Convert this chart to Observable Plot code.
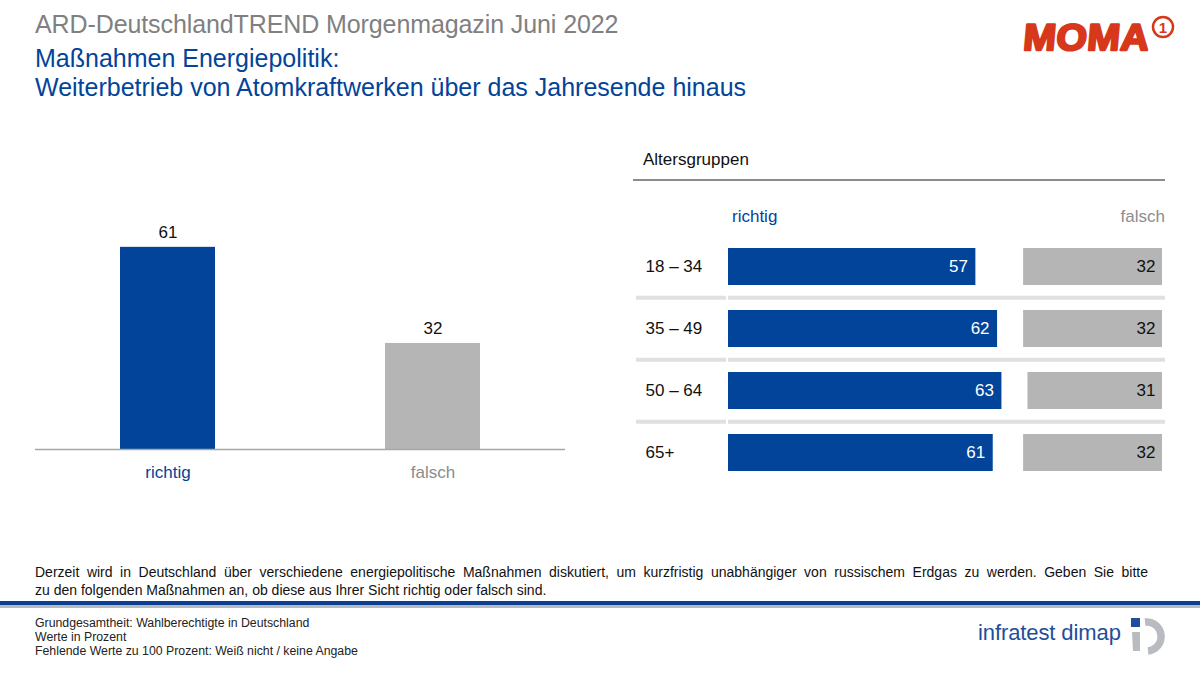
<!DOCTYPE html>
<html>
<head>
<meta charset="utf-8">
<script src="https://cdn.jsdelivr.net/npm/d3@7"></script>
<script src="https://cdn.jsdelivr.net/npm/@observablehq/plot@0.6"></script>
<style>
  html, body { margin: 0; padding: 0; background: #fff; }
  body { width: 1200px; height: 675px; overflow: hidden; font-family: "Liberation Sans", Arial, sans-serif; }
  #page { position: relative; width: 1200px; height: 675px; }
  .abs { position: absolute; white-space: nowrap; }
  #title { left: 35px; top: 10px; font-size: 25px; line-height: 29px; color: #808080; letter-spacing: -0.1px; }
  #subtitle { left: 35px; top: 44px; font-size: 25px; line-height: 29px; color: #02449A; }
  #ageHead { left: 643px; top: 150px; font-size: 17px; line-height: 20px; color: #111; }
  #ageLine { left: 633px; top: 179px; width: 532px; height: 2px; background: #8C8C8C; }
  #hRichtig { left: 732px; top: 207px; font-size: 17px; line-height: 20px; color: #02449A; }
  #hFalsch { right: 35px; top: 207px; font-size: 17px; line-height: 20px; color: #8C8C8C; }
  #question { left: 35px; top: 563px; width: 1113px; font-size: 14px; line-height: 18px; color: #111; white-space: normal; }
  #question .l1 { text-align: justify; text-align-last: justify; }
  #blueLine { left: 0; top: 601px; width: 1200px; height: 4px; background: #0B3F93; }
  #grayLine { left: 0; top: 605px; width: 1200px; height: 3px; background: #B7BABD; }
  #notes { left: 35px; top: 616px; font-size: 12.3px; line-height: 14px; color: #222; }
  #leftChart { left: 0; top: 200px; }
  #rightChart { left: 620px; top: 200px; }
  #infratest { left: 978px; top: 619px; font-size: 22px; line-height: 28px; color: #1F4E9A; letter-spacing: -0.1px; }
</style>
</head>
<body>
<div id="page">
  <div class="abs" id="title">ARD-DeutschlandTREND Morgenmagazin Juni 2022</div>
  <div class="abs" id="subtitle">Maßnahmen Energiepolitik:<br>Weiterbetrieb von Atomkraftwerken über das Jahresende hinaus</div>

  <svg class="abs" style="left:1010px;top:10px" width="180" height="50" viewBox="0 0 180 50">
    <text x="16" y="40" font-family="Liberation Sans, Arial, sans-serif" font-weight="bold" font-size="37" fill="#D7381B" stroke="#D7381B" stroke-width="2.4" stroke-linejoin="round" transform="skewX(-5)" letter-spacing="0.5" textLength="126" lengthAdjust="spacingAndGlyphs">MOMA</text>
    <circle cx="153" cy="17" r="10" fill="none" stroke="#D7381B" stroke-width="2.5"/>
    <text x="153" y="23" text-anchor="middle" font-family="Liberation Sans, Arial, sans-serif" font-weight="bold" font-size="15" fill="#D7381B">1</text>
  </svg>

  <div class="abs" id="ageHead">Altersgruppen</div>
  <div class="abs" id="ageLine"></div>
  <div class="abs" id="hRichtig">richtig</div>
  <div class="abs" id="hFalsch">falsch</div>

  <div class="abs" id="leftChart"></div>
  <div class="abs" id="rightChart"></div>

  <div class="abs" id="question">
    <div class="l1">Derzeit wird in Deutschland über verschiedene energiepolitische Maßnahmen diskutiert, um kurzfristig unabhängiger von russischem Erdgas zu werden. Geben Sie bitte</div>
    <div>zu den folgenden Maßnahmen an, ob diese aus Ihrer Sicht richtig oder falsch sind.</div>
  </div>
  <div class="abs" id="blueLine"></div>
  <div class="abs" id="grayLine"></div>
  <div class="abs" id="notes">Grundgesamtheit: Wahlberechtigte in Deutschland<br>Werte in Prozent<br>Fehlende Werte zu 100 Prozent: Weiß nicht / keine Angabe</div>
  <div class="abs" id="infratest">infratest dimap</div>
  <svg class="abs" style="left:1128px;top:614px" width="45" height="42" viewBox="0 0 45 42">
    <rect x="3" y="4" width="9" height="9" fill="#1F4E9A"/>
    <path d="M4 18 L12 18 L12 37 L5 37 Z" fill="#B8BCC0"/>
    <path d="M17 8 A14 14 0 1 1 20 37" fill="none" stroke="#B8BCC0" stroke-width="7.5"/>
  </svg>
</div>

<script>
// ---- data ----
const categories = ["richtig", "falsch"];
const totalValues = [61, 32];
const ageGroups = ["18 – 34", "35 – 49", "50 – 64", "65+"];
const richtigByAge = [57, 62, 63, 61];
const falschByAge = [32, 32, 31, 32];
const scaleMax = 100;

// ---- styling ----
const BLUE = "#02449A";
const GRAY_BAR = "#B5B5B5";
const barColor = {richtig: BLUE, falsch: GRAY_BAR};
const labelColor = {richtig: BLUE, falsch: "#8C8C8C"};
const font = "Liberation Sans, Arial, sans-serif";

const overall = categories.map((c, i) => ({cat: c, value: totalValues[i]}));
const rows = ageGroups.map((a, i) => ({age: a, richtig: richtigByAge[i], falsch: falschByAge[i]}));

const left = Plot.plot({
  width: 600, height: 290,
  marginLeft: 35, marginRight: 35, marginTop: 17, marginBottom: 41,
  x: {domain: categories, padding: 0, axis: null},
  y: {domain: [0, 70], axis: null},
  style: {fontFamily: font, fontSize: "17px", background: "transparent", overflow: "visible"},
  marks: [
    Plot.barY(overall, {x: "cat", y: "value", fill: d => barColor[d.cat], insetLeft: 85, insetRight: 85}),
    Plot.ruleY([0], {stroke: "#A8A8A8", strokeWidth: 1.5}),
    Plot.text(overall, {x: "cat", y: "value", text: d => String(d.value), dy: -15, fill: "#111", fontSize: 17}),
    Plot.text(overall, {x: "cat", text: "cat", frameAnchor: "bottom", lineAnchor: "middle", dy: 23, fill: d => labelColor[d.cat], fontSize: 17})
  ]
});
document.getElementById("leftChart").appendChild(left);

const right = Plot.plot({
  width: 560, height: 300,
  marginLeft: 16, marginRight: 15, marginTop: 0, marginBottom: 0,
  x: {domain: [0, scaleMax], range: [108, 542], axis: null},
  y: {domain: ageGroups, range: [22, 296.6], padding: 0.4, axis: null},
  style: {fontFamily: font, fontSize: "17px", background: "transparent", overflow: "visible"},
  marks: [
    Plot.ruleY(ageGroups.slice(1), {dy: -31.2, stroke: "#E0E0E0", strokeWidth: 4}),
    Plot.ruleX([0], {dx: -1.5, stroke: "white", strokeWidth: 2}),
    Plot.barX(rows, {y: "age", x1: 0, x2: "richtig", fill: BLUE}),
    Plot.barX(rows, {y: "age", x1: d => scaleMax - d.falsch, x2: () => scaleMax, fill: GRAY_BAR}),
    Plot.text(rows, {y: "age", x: "richtig", text: d => String(d.richtig), dx: -8, textAnchor: "end", fill: "white", fontSize: 17}),
    Plot.text(rows, {y: "age", x: () => scaleMax, text: d => String(d.falsch), dx: -7, textAnchor: "end", fill: "#111", fontSize: 17}),
    Plot.text(rows, {y: "age", text: "age", frameAnchor: "left", dx: 9, textAnchor: "start", fill: "#111", fontSize: 17})
  ]
});
document.getElementById("rightChart").appendChild(right);
</script>
</body>
</html>
